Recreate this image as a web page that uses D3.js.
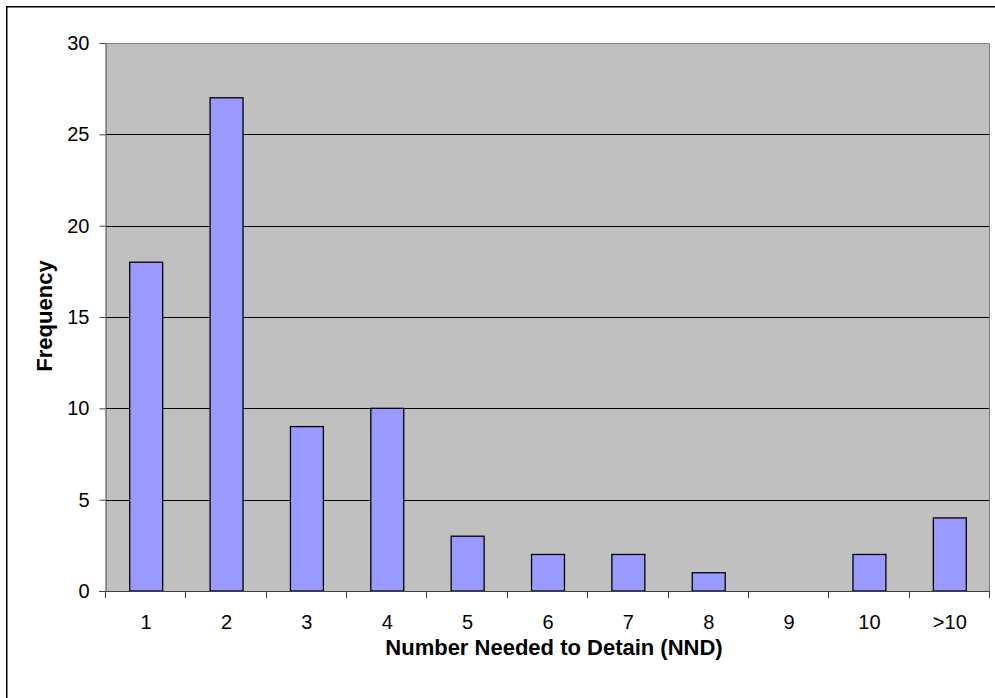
<!DOCTYPE html>
<html><head><meta charset="utf-8">
<script src="https://cdn.jsdelivr.net/npm/d3@7"></script>
<style>body{margin:0;background:#fff}svg{display:block}text{font-family:Arial,"Liberation Sans",sans-serif;fill:#000}</style>
</head><body>
<script>
const categories = ["1","2","3","4","5","6","7","8","9","10",">10"];
const frequency = [18,27,9,10,3,2,2,1,0,2,4];
const yTicks = [0,5,10,15,20,25,30];

const W = 995, H = 698;
const plot = {left:106, right:990, top:43, bottom:591};
const svg = d3.select("body").append("svg").attr("width",W).attr("height",H);

svg.append("rect").attr("x",6.75).attr("y",6.75).attr("width",1100).attr("height",1100)
  .attr("fill","none").attr("stroke","#000").attr("stroke-width",1.5);

const x = d3.scaleBand().domain(categories).range([plot.left,plot.right]).paddingInner(0.59).paddingOuter(0.295);
const y = d3.scaleLinear().domain([0,30]).range([plot.bottom,plot.top]);

svg.append("rect").attr("x",plot.left).attr("y",plot.top).attr("width",plot.right-plot.left).attr("height",plot.bottom-plot.top)
  .attr("fill","#C0C0C0");
// gridlines
svg.append("g").selectAll("line").data(yTicks.filter(d=>d>0 && d<30)).join("line")
  .attr("x1",plot.left).attr("x2",plot.right).attr("y1",d=>Math.round(y(d))+0.5).attr("y2",d=>Math.round(y(d))+0.5)
  .attr("stroke","#000").attr("stroke-width",1);
// plot border top/right
svg.append("path").attr("d",`M${plot.left},${plot.top+0.5}H${plot.right-0.5}V${plot.bottom}`)
  .attr("fill","none").attr("stroke","#808080").attr("stroke-width",1);

// bars
svg.append("g").selectAll("rect").data(frequency).join("rect")
  .attr("x",(d,i)=>x(categories[i])).attr("width",x.bandwidth())
  .attr("y",d=>y(d)).attr("height",d=>y(0)-y(d))
  .attr("fill","#9999FF").attr("stroke","#000").attr("stroke-width",1.3)
  .attr("display",d=>d>0?null:"none");

// y axis
const yAxis = d3.axisLeft(y).tickValues(yTicks).tickSize(6).tickPadding(10).tickSizeOuter(0);
const gy = svg.append("g").attr("transform",`translate(${plot.left-0.5},0)`).call(yAxis);
gy.select(".domain").attr("stroke","#404040");
gy.selectAll(".tick line").attr("stroke","#404040");
gy.selectAll("text").attr("font-size",20).style("font-family","Arial, 'Liberation Sans', sans-serif");

// x axis
const step = x.step();
const gx = svg.append("g");
gx.append("line").attr("x1",plot.left-7).attr("x2",plot.right).attr("y1",plot.bottom+0.5).attr("y2",plot.bottom+0.5).attr("stroke","#404040");
gx.selectAll("line.t").data(d3.range(categories.length+1)).join("line").attr("class","t")
  .attr("x1",i=>Math.round(plot.left+i*step)-0.5).attr("x2",i=>Math.round(plot.left+i*step)-0.5)
  .attr("y1",plot.bottom).attr("y2",plot.bottom+7).attr("stroke","#404040");
gx.selectAll("text").data(categories).join("text")
  .attr("x",d=>x(d)+x.bandwidth()/2).attr("y",622).attr("dy","0.35em")
  .attr("text-anchor","middle").attr("font-size",20).text(d=>d);

svg.append("text").attr("x",554).attr("y",647).attr("dy","0.35em").attr("text-anchor","middle")
  .attr("font-size",22).attr("font-weight","bold").text("Number Needed to Detain (NND)");
svg.append("text").attr("transform","translate(44,316) rotate(-90)").attr("dy","0.35em").attr("text-anchor","middle")
  .attr("font-size",22).attr("font-weight","bold").text("Frequency");
</script>
</body></html>
